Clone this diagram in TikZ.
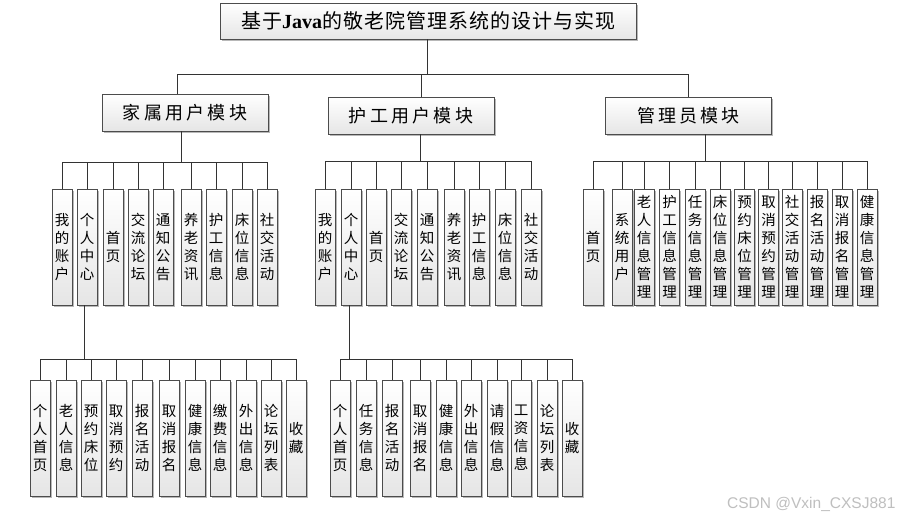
\documentclass[tikz,border=0pt]{standalone}
\usepackage{fontspec}
\usetikzlibrary{shadows,calc}
\newfontfamily\cjk{Noto Sans CJK SC}
\newfontfamily\cjktitle[LetterSpace=5]{Noto Sans CJK SC}
\newfontfamily\cjkmod[LetterSpace=18]{Noto Sans CJK SC}
\newfontfamily\tnr{Liberation Serif}
\newfontfamily\wmfont{Liberation Sans}
\tikzset{
  box/.style={draw=black!70, line width=0.7pt, top color=white, bottom color=black!10,
    drop shadow={shadow xshift=1.8pt, shadow yshift=-1.8pt, fill=black!28, opacity=1},
    inner sep=0pt},
  titlebox/.style={box, minimum width=416pt, minimum height=36pt,
    font=\cjktitle\fontsize{20}{24}\selectfont},
  modbox/.style={box, minimum width=166pt, minimum height=37pt,
    font=\cjkmod\fontsize{18}{22}\selectfont},
  leaf/.style={box, minimum width=20pt, minimum height=116pt, align=center,
    font=\cjk\fontsize{14.5}{18}\selectfont},
  conn/.style={draw=black!80, line width=0.7pt},
}
\begin{document}
\begin{tikzpicture}[x=1pt,y=-1pt]
\useasboundingbox (0,0) rectangle (899,520);
\fill[white] (0,0) rectangle (899,520);

% title and modules
\node[titlebox] (title) at (428,21) {基于{\tnr\bfseries Java}的敬老院管理系统的设计与实现};
\node[modbox] (m1) at (185,112.5) {家属用户模块};
\node[modbox] (m2) at (411,115.5) {护工用户模块};
\node[modbox] (m3) at (688.5,115.5) {管理员模块};

\coordinate (top) at (0,74);
\coordinate (t0) at ($(title.south)+(-1,0)$);
\coordinate (t1) at ($(m1.north)+(-8,0)$);
\coordinate (t2) at ($(m2.north)+(10,0)$);
\coordinate (t3) at (m3.north);
\draw[conn] (t0) -- (t0 |- top);
\draw[conn] (t1) |- (t3 |- top) -- (t3);
\draw[conn] (t2) -- (t2 |- top);

% family user leaves
\coordinate (fbus) at (0,162);
\foreach \x/\txt [count=\i] in {62/我\\的\\账\\户, 87/个\\人\\中\\心, 113/首\\页,
  138/交\\流\\论\\坛, 163/通\\知\\公\\告, 191/养\\老\\资\\讯, 216/护\\工\\信\\息,
  242/床\\位\\信\\息, 267/社\\交\\活\\动}{
  \node[leaf] (f\i) at (\x,247) {\txt};
  \draw[conn] (f\i.north) -- (f\i.north |- fbus);
}
\draw[conn] (f1.north |- fbus) -- (f9.north |- fbus);
\coordinate (m1s) at ($(m1.south)+(-4,0)$);
\draw[conn] (m1s) -- (m1s |- fbus);

% nurse user leaves
\coordinate (gbus) at (0,161);
\foreach \x/\txt [count=\i] in {325/我\\的\\账\\户, 351/个\\人\\中\\心, 376/首\\页,
  401/交\\流\\论\\坛, 427/通\\知\\公\\告, 454/养\\老\\资\\讯, 479/护\\工\\信\\息,
  505/床\\位\\信\\息, 531/社\\交\\活\\动}{
  \node[leaf] (g\i) at (\x,247) {\txt};
  \draw[conn] (g\i.north) -- (g\i.north |- gbus);
}
\draw[conn] (g1.north |- gbus) -- (g9.north |- gbus);
\coordinate (m2s) at ($(m2.south)+(9,0)$);
\draw[conn] (m2s) -- (m2s |- gbus);

% admin leaves
\coordinate (abus) at (0,161);
\foreach \x/\txt [count=\i] in {593/首\\页, 622/系\\统\\用\\户,
  644/老\\人\\信\\息\\管\\理, 669.5/护\\工\\信\\息\\管\\理, 695/任\\务\\信\\息\\管\\理,
  720/床\\位\\信\\息\\管\\理, 744.5/预\\约\\床\\位\\管\\理, 768.5/取\\消\\预\\约\\管\\理,
  792/社\\交\\活\\动\\管\\理, 817/报\\名\\活\\动\\管\\理, 842/取\\消\\报\\名\\管\\理,
  867/健\\康\\信\\息\\管\\理}{
  \node[leaf] (a\i) at (\x,247) {\txt};
  \draw[conn] (a\i.north) -- (a\i.north |- abus);
}
\draw[conn] (a1.north |- abus) -- (a12.north |- abus);
\coordinate (m3s) at ($(m3.south)+(16.5,0)$);
\draw[conn] (m3s) -- (m3s |- abus);

% family personal center sub-leaves
\coordinate (pbus) at (0,359);
\foreach \x/\txt [count=\i] in {40/个\\人\\首\\页, 66/老\\人\\信\\息, 91/预\\约\\床\\位,
  116/取\\消\\预\\约, 142/报\\名\\活\\动, 169/取\\消\\报\\名, 195/健\\康\\信\\息,
  220/缴\\费\\信\\息, 246/外\\出\\信\\息, 271/论\\坛\\列\\表, 296/收\\藏}{
  \node[leaf] (p\i) at (\x,438) {\txt};
  \draw[conn] (p\i.north) -- (p\i.north |- pbus);
}
\draw[conn] (p1.north |- pbus) -- (p11.north |- pbus);
\coordinate (f2s) at ($(f2.south)+(-3,0)$);
\draw[conn] (f2s) -- (f2s |- pbus);

% nurse personal center sub-leaves
\coordinate (qbus) at (0,359);
\foreach \x/\txt [count=\i] in {340/个\\人\\首\\页, 366/任\\务\\信\\息, 392/报\\名\\活\\动,
  420/取\\消\\报\\名, 446/健\\康\\信\\息, 471/外\\出\\信\\息, 497/请\\假\\信\\息,
  521/工\\资\\信\\息, 547/论\\坛\\列\\表, 572/收\\藏}{
  \node[leaf] (q\i) at (\x,438) {\txt};
  \draw[conn] (q\i.north) -- (q\i.north |- qbus);
}
\draw[conn] (q1.north |- qbus) -- (q10.north |- qbus);
\coordinate (g2s) at ($(g2.south)+(-2,0)$);
\draw[conn] (g2s) -- (g2s |- qbus);

% watermark
\node[anchor=base west, inner sep=0pt, text=black!25,
  font=\wmfont\fontsize{15.5}{15.5}\selectfont] (wm) at (727,508) {CSDN @Vxin\_CXSJ881};
\end{tikzpicture}
\end{document}
